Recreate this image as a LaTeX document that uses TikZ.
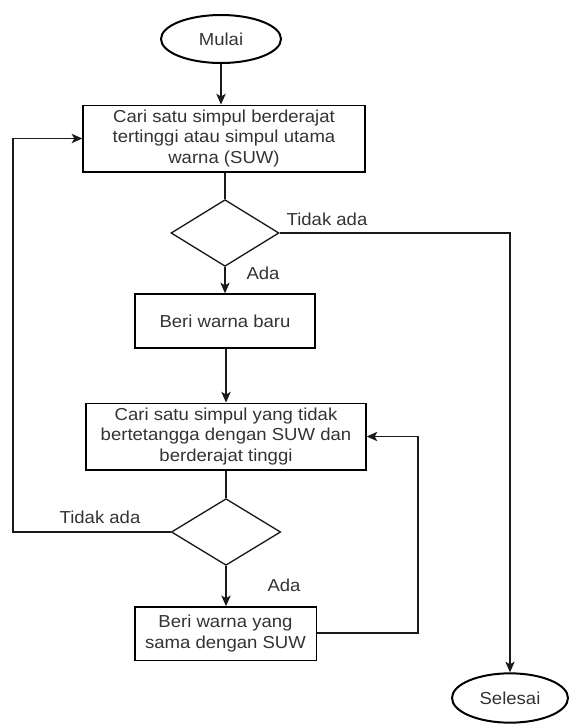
\documentclass[tikz,border=0pt]{standalone}
\usepackage{fontspec}
\setmainfont{Liberation Sans}[FakeStretch=1.07]
\usetikzlibrary{shapes.geometric,arrows.meta}
\definecolor{garis}{HTML}{1A1A1A}
\definecolor{teks}{HTML}{333333}
\tikzset{
	kotak/.style={draw=black, line width=1pt, align=center, inner sep=2pt, text=teks,
		font=\fontsize{13pt}{15.5pt}\selectfont},
	terminal/.style={draw=black, line width=1.5pt, ellipse, inner sep=0pt, text=teks,
		font=\fontsize{13pt}{15.5pt}\selectfont},
	keputusan/.style={draw=garis, line width=1pt, diamond, inner sep=0pt},
	panah/.style={draw=garis, line width=1pt, -{Stealth[length=8pt,width=7pt,inset=2pt]}},
	garisan/.style={draw=garis, line width=1pt},
	label/.style={text=teks, font=\fontsize{13pt}{15.5pt}\selectfont, inner sep=0pt}
}
\begin{document}
\begin{tikzpicture}[x=0.75pt, y=-0.75pt]
	\useasboundingbox (0,0) rectangle (569,726);
	
	%Mulai dan Selesai
	\node[terminal, minimum width=90pt, minimum height=36pt] (mulai) at (221,39) {Mulai};
	\node[terminal, minimum width=87pt, minimum height=37pt] (selesai) at (510,698) {Selesai};
	
	%langkah
	\node[kotak, minimum width=211.5pt, minimum height=50pt] (cariSUW) at (224,138.5) {Cari satu simpul berderajat\\tertinggi atau simpul utama\\warna (SUW)};
	\node[keputusan, minimum width=81pt, minimum height=50pt] (cek1) at (225,233) {};
	\node[kotak, minimum width=135pt, minimum height=40.5pt] (baru) at (225,321) {Beri warna baru};
	\node[kotak, minimum width=210pt, minimum height=50pt] (cariSimpul) at (226,436.5) {Cari satu simpul yang tidak\\bertetangga dengan SUW dan\\berderajat tinggi};
	\node[keputusan, minimum width=82pt, minimum height=50pt] (cek2) at (226,532) {};
	\node[kotak, minimum width=136pt, minimum height=40pt] (sama) at (225.5,633.5) {Beri warna yang\\sama dengan SUW};
	
	%titik belok
	\coordinate (kiri) at (13,532);
	\coordinate (kanan) at (418,633);
	
	%panah
	\draw[panah] (mulai.south) -- (mulai.south |- cariSUW.north);
	\draw[garisan] (cariSUW.south -| cek1.north) -- (cek1.north);
	\draw[panah] (cek1.south) -- (cek1.south |- baru.north);
	\draw[panah] (cek1.east) -| (selesai.north);
	\draw[panah] (baru.south) -- (baru.south -| cariSimpul.north) -- (cariSimpul.north);
	\draw[garisan] (cariSimpul.south) -- (cek2.north);
	\draw[panah] (cek2.south) -- (cek2.south |- sama.north);
	\draw[panah] (cek2.west) -- (kiri) |- (cariSUW.west);
	\draw[panah] (sama.east |- kanan) -- (kanan) |- (cariSimpul.east);
	
	%keterangan
	\node[label] (tidak1) at (327,219) {Tidak ada};
	\node[label] (ada1) at (263,273) {Ada};
	\node[label] (tidak2) at (100,517) {Tidak ada};
	\node[label] (ada2) at (284,585) {Ada};
\end{tikzpicture}
\end{document}
